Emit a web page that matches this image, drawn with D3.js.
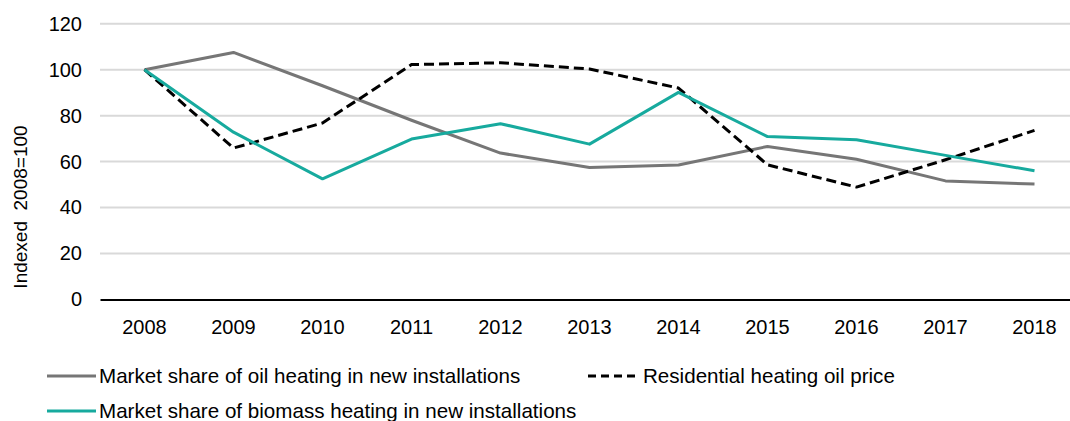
<!DOCTYPE html>
<html lang="en">
<head>
    <meta charset="UTF-8">
    <title>Oil and biomass heating, indexed 2008=100</title>
    <script src="https://d3js.org/d3.v7.min.js"></script>
    <style>
        body { margin: 0; overflow: hidden; background: white; }
        svg { display: block; font-family: Arial, "Liberation Sans", sans-serif; }
    </style>
</head>
<body>
    <svg id="chart"></svg>

    <script>
        const width = 1070;
        const height = 421;

        // Data
        const years = ["2008", "2009", "2010", "2011", "2012", "2013", "2014", "2015", "2016", "2017", "2018"];
        const oilShare = [100, 107.5, 93, 78, 63.7, 57.4, 58.5, 66.6, 61, 51.6, 50.2];
        const oilPrice = [100, 65.9, 76.8, 102.2, 103, 100.3, 92, 58.6, 48.9, 60.8, 73.6];
        const biomassShare = [100, 72.8, 52.5, 69.8, 76.5, 67.6, 90.1, 70.9, 69.5, 62.7, 56];
        const yTicks = [0, 20, 40, 60, 80, 100, 120];

        const series = [
            { name: "Market share of oil heating in new installations", values: oilShare, color: "#767676", dash: null },
            { name: "Residential heating oil price", values: oilPrice, color: "#000000", dash: "10,5" },
            { name: "Market share of biomass heating in new installations", values: biomassShare, color: "#17aa9e", dash: null }
        ];

        const svg = d3.select("#chart")
            .attr("width", width)
            .attr("height", height);

        svg.append("rect")
            .attr("width", width)
            .attr("height", height)
            .attr("fill", "white");

        const x = d3.scaleBand()
            .domain(years)
            .range([100, 1079]);

        const y = d3.scaleLinear()
            .domain([0, 120])
            .range([299.5, 23.7]);

        // gridlines
        svg.append("g")
            .selectAll("line")
            .data(yTicks.filter(d => d > 0))
            .join("line")
            .attr("x1", 100)
            .attr("x2", 1079)
            .attr("y1", d => y(d))
            .attr("y2", d => y(d))
            .attr("stroke", "#d9d9d9")
            .attr("stroke-width", 2);

        // y axis labels
        const yAxis = svg.append("g")
            .attr("transform", "translate(100,0)")
            .call(d3.axisLeft(y).tickValues(yTicks).tickSize(0).tickPadding(18));
        yAxis.select(".domain").remove();
        yAxis.selectAll("text")
            .attr("font-size", 20)
            .attr("font-family", "Arial, 'Liberation Sans', sans-serif")
            .attr("fill", "#000");

        // x axis
        const xAxis = svg.append("g")
            .attr("transform", `translate(0,${y(0)})`)
            .call(d3.axisBottom(x).tickSize(0).tickPadding(20));
        xAxis.select(".domain")
            .attr("stroke", "#000")
            .attr("stroke-width", 2);
        xAxis.selectAll("text")
            .attr("font-size", 20)
            .attr("font-family", "Arial, 'Liberation Sans', sans-serif")
            .attr("fill", "#000");

        // y axis title
        svg.append("text")
            .attr("transform", "translate(27,207) rotate(-90)")
            .attr("text-anchor", "middle")
            .attr("font-size", 19)
            .style("white-space", "pre")
            .text("Indexed  2008=100");

        // lines
        const line = d3.line()
            .x((d, i) => x(years[i]) + x.bandwidth() / 2)
            .y(d => y(d));

        svg.append("g")
            .selectAll("path")
            .data(series)
            .join("path")
            .attr("d", d => line(d.values))
            .attr("fill", "none")
            .attr("stroke", d => d.color)
            .attr("stroke-width", 3)
            .attr("stroke-dasharray", d => d.dash)
            .attr("stroke-linejoin", "round");

        // legend
        const legendPos = [[47, 376], [588, 376], [47, 411]];
        const legend = svg.append("g")
            .selectAll("g")
            .data(series)
            .join("g")
            .attr("transform", (d, i) => `translate(${legendPos[i][0]},${legendPos[i][1]})`);

        legend.append("line")
            .attr("x1", 0)
            .attr("x2", 49)
            .attr("stroke", d => d.color)
            .attr("stroke-width", 3)
            .attr("stroke-dasharray", d => d.dash ? "8,5" : null);

        legend.append("text")
            .attr("x", d => d.dash ? 55 : 52)
            .attr("y", 7)
            .attr("font-size", 20.6)
            .text(d => d.name);
    </script>
</body>
</html>
